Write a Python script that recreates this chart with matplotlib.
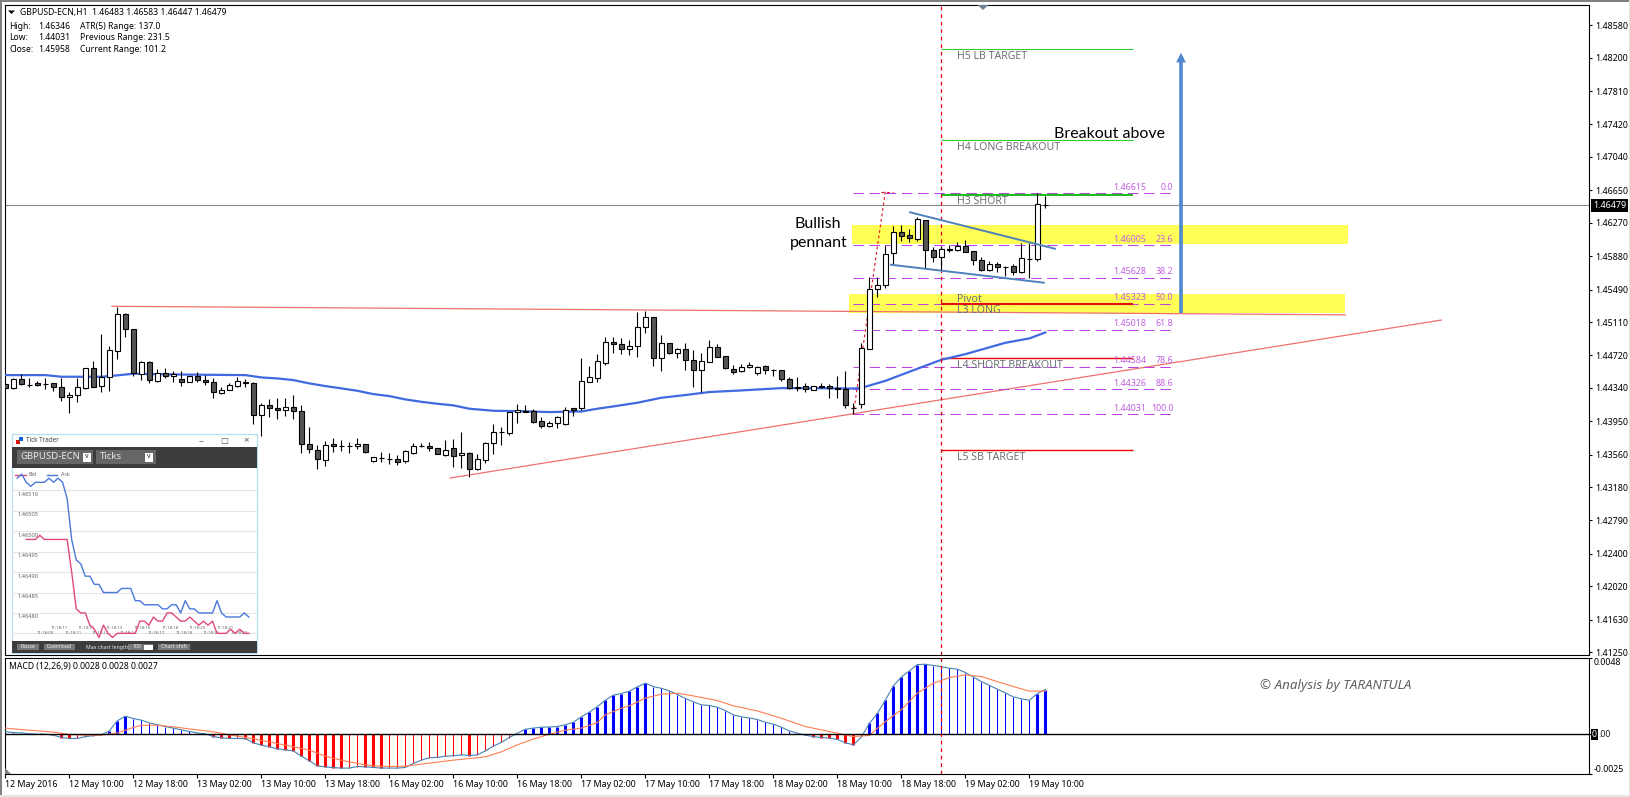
import matplotlib
matplotlib.use("Agg")
import matplotlib.pyplot as plt
from matplotlib.patches import Rectangle, Polygon
import numpy as np

plt.rcParams['font.family'] = ['Noto Sans', 'DejaVu Sans']
W, H = 1631, 797

# ---- hourly OHLC, in points (1e-5)
high_pts = [144392,144451,144501,144451,144415,144454,144400,144458,144295,144458,
144567,144653,144969,144829,145289,145211,145024,144653,144653,144556,
144567,144536,144536,144478,144521,144490,144451,144345,144392,144462,
144447,144411,144158,144205,144217,144217,144256,144135,143877,143667,
143713,143749,143729,143710,143749,143686,143530,143589,143573,143554,
143612,143690,143690,143702,143639,143729,143737,143819,143585,143565,
143702,143916,143881,144061,144150,144135,144088,144002,143951,144010,
144115,144099,144684,144595,144735,144934,144938,144926,144895,145227,
145238,145164,144954,144860,144809,144860,144782,144743,144895,144848,
144708,144607,144618,144642,144591,144603,144556,144548,144462,144462,
144392,144365,144392,144388,144474,144535,144165,144859,145631,145639,
146010,146232,146243,146193,146341,146302,145990,145998,146006,146049,
146068,145943,145865,145826,145811,145760,145783,146033,146037,146615,146583]
open_pts = [144384,144334,144439,144376,144392,144388,144392,144345,144228,144252,
144334,144567,144357,144466,144766,145199,145024,144497,144638,144423,
144517,144482,144439,144408,144474,144427,144404,144283,144318,144365,
144408,144392,144018,144142,144100,144076,144111,144064,143678,143608,
143499,143678,143659,143663,143655,143678,143479,143522,143507,143503,
143479,143581,143663,143663,143632,143557,143632,143550,143573,143394,
143499,143690,143823,143815,144053,144072,144064,143947,143897,143924,
143912,144099,144099,144411,144458,144634,144872,144848,144798,144825,
145047,145164,144684,144860,144743,144790,144661,144544,144646,144813,
144708,144556,144540,144579,144517,144591,144548,144544,144439,144353,
144357,144318,144365,144365,144337,144325,144110,144157,144797,145491,
145538,145912,146158,146123,146080,146302,145947,145873,145959,145951,
145994,145935,145830,145721,145783,145756,145760,145690,145850,145842,146483]
close_pts = [144337,144439,144388,144370,144373,144386,144345,144228,144252,144345,
144567,144353,144462,144778,145199,145024,144509,144638,144427,144517,
144482,144505,144404,144474,144435,144404,144287,144318,144369,144415,
144392,144018,144142,144100,144076,144111,144064,143678,143620,143503,
143667,143655,143655,143659,143678,143585,143526,143518,143503,143476,
143600,143655,143659,143639,143569,143616,143546,143573,143390,143503,
143690,143827,143819,144053,144076,144060,143943,143897,143924,143994,
144084,144084,144423,144462,144649,144872,144848,144798,144825,145055,
145164,144684,144860,144743,144790,144661,144544,144649,144813,144704,
144567,144529,144579,144610,144587,144544,144544,144439,144341,144341,
144322,144357,144349,144334,144322,144138,144106,144801,145491,145538,
145900,146158,146119,146087,146310,145947,145873,145959,145947,146002,
145932,145830,145721,145783,145748,145752,145690,145854,145846,146485,146479]
low_pts = [144330,144330,144369,144345,144361,144322,144306,144189,144049,144177,
144322,144345,144295,144306,144681,144930,144482,144431,144392,144411,
144458,144411,144361,144404,144411,144369,144224,144267,144310,144345,
144345,143920,143780,144002,143979,144014,143975,143581,143581,143394,
143429,143589,143604,143573,143620,143581,143475,143468,143444,143440,
143456,143565,143651,143604,143561,143546,143417,143401,143300,143378,
143464,143565,143671,143791,143928,144053,143932,143873,143885,143873,
143908,144014,144084,144404,144411,144610,144751,144739,144727,144700,
144985,144595,144540,144735,144688,144548,144353,144295,144638,144696,
144556,144505,144521,144575,144493,144505,144478,144419,144330,144306,
144295,144310,144334,144224,144220,144110,144031,144106,144789,145401,
145506,145783,146060,146049,146060,145744,145815,145717,145932,145939,
145924,145779,145705,145701,145694,145651,145655,145678,145620,145826,146447]

# ---- moving average, sampled by bar
ma_bar = [0,5,7,12,14,16,21,25,30,32,34,36,38,40,42,44,46,48,50,52,54,56,58,61,64,68,72,74,76,79,82,85,88,92,97,104,106,107,110,114,117,120,125,128,130]
ma_pts = [144489,144489,144470,144470,144486,144505,144497,144493,144489,144462,144450,144431,144392,144361,144334,144306,144267,144244,144205,144177,144154,144135,144096,144072,144068,144057,144064,144096,144123,144166,144224,144256,144291,144310,144337,144334,144332,144340,144422,144563,144668,144734,144867,144918,144988]

# ---- MACD, in 1e-5
macd_pts = [15,10,8,2,0,0,-6,-21,-27,-27,
-15,-10,-4,21,84,113,98,88,71,59,
48,38,27,17,8,2,-15,-23,-27,-27,
-28,-54,-69,-79,-92,-98,-105,-138,-167,-199,
-205,-210,-213,-213,-203,-205,-209,-213,-213,-213,
-209,-184,-163,-148,-146,-138,-136,-130,-134,-130,
-105,-75,-52,-21,6,31,38,44,45,48,
59,75,109,138,173,213,245,255,270,297,
320,299,288,272,249,224,203,184,180,169,
148,121,109,102,92,75,63,44,21,6,
-6,-15,-21,-25,-33,-54,-67,-19,67,130,
213,303,359,397,437,439,431,424,414,408,
387,359,330,307,282,259,234,222,213,255,280]
sig_bar = [0,2,4,6,8,10,12,14,15,16,17,19,21,23,26,28,31,34,36,38,40,42,44,46,48,50,52,54,56,58,60,62,64,66,68,70,72,74,75,77,78,80,82,84,86,89,91,94,97,100,104,106,108,110,112,114,116,118,120,122,124,126,128,130]
sig_pts = [38,29,21,13,-2,-6,-6,8,25,42,56,56,46,33,15,-4,-29,-59,-79,-100,-138,-163,-184,-199,-203,-201,-188,-176,-163,-153,-142,-111,-67,-31,0,25,38,73,121,163,178,226,251,257,240,211,178,146,100,48,6,-15,-8,79,153,257,320,355,372,362,330,299,270,270]

date_labels = ['12 May 2016','12 May 10:00','12 May 18:00','13 May 02:00','13 May 10:00','13 May 18:00',
 '16 May 02:00','16 May 10:00','16 May 18:00','17 May 02:00','17 May 10:00','17 May 18:00',
 '18 May 02:00','18 May 10:00','18 May 18:00','19 May 02:00','19 May 10:00']
price_ticks = [1.48580,1.48200,1.47810,1.47420,1.47040,1.46650,1.46270,1.45880,1.45490,1.45110,
 1.44720,1.44340,1.43950,1.43560,1.43180,1.42790,1.42400,1.42020,1.41630,1.41250]
macd_ticks = [0.0048,-0.0025]

# ---- fibonacci and target levels
fib_price = [1.46615,1.46005,1.45628,1.45323,1.45018,1.44584,1.44326,1.44031]
fib_ratio = ['0.0','23.6','38.2','50.0','61.8','78.6','88.6','100.0']
level_names = ['H5 LB TARGET','H4 LONG BREAKOUT','H3 SHORT','Pivot','L4 SHORT BREAKOUT','L5 SB TARGET']
level_price = [1.48299,1.47238,1.46599,1.45321,1.44689,1.43613]
level_color = ['#33cc33','#33cc33','#22bb22','#e01010','#f00000','#f00000']
level_width = [0.8,0.8,1.5,1.5,1.0,1.0]

res_bar, res_price = [13.33,167.5],[1.45294,1.45194]
sup_bar, sup_price = [55.6,179.5],[1.43286,1.45133]
pen_up_bar, pen_up_price = [113.1,131.2],[1.46393,1.45967]
pen_lo_bar, pen_lo_price = [110.7,129.8],[1.45780,1.45570]
fibline_bar, fibline_price = [106,110],[1.44031,1.46634]
zones = [(105.8,167.8,1.46022,1.46244),(105.5,167.5,1.45219,1.45437)]

# ---- Tick Trader inset
ask_pts = [146513,146514,146512,146511,146512,146512,146512,146513,146512,146513,146512,146508,146498,146493,146492,146489,146489,146487,146487,146485,146485,146485,146485,146486,146486,146486,146483,146483,146482,146482,146482,146482,146481,146481,146482,146482,146480,146483,146481,146481,146480,146480,146480,146480,146483,146480,146479,146479,146479,146479,146480,146479]
bid_pts = [146498,146498,146498,146499,146498,146498,146498,146498,146498,146498,146490,146481,146480,146480,146477,146476,146474,146477,146475,146474,146475,146475,146475,146475,146475,146478,146478,146477,146479,146478,146478,146480,146480,146479,146478,146478,146479,146478,146477,146478,146477,146478,146475,146475,146475,146476,146475,146476,146475,146475]
tick_grid = [1.46510,1.46505,1.46500,1.46495,1.46490,1.46485,1.46480,1.46475]
time_top = ['11:18:11','11:18:11','11:18:13','11:18:16','11:18:18','11:18:20','11:18:21']
time_bot = ['11:18:09','11:18:11','11:18:12','11:18:14','11:18:17','11:18:18','11:18:21','11:18:23']

op, hi, lo, cl = [np.array(a)/1e5 for a in (open_pts, high_pts, low_pts, close_pts)]
bars = np.arange(len(op))
macd = np.array(macd_pts)/1e5
sig = np.array(sig_pts)/1e5

fig = plt.figure(figsize=(W/100, H/100), dpi=100, facecolor='white')
def rect(l, t, r, b):
    return [l/W, 1-b/H, (r-l)/W, (b-t)/H]

LEFT, RIGHT = 4.5, 1589.3
X0, DX = 5.33, 8.0
xlim = ((LEFT-X0)/DX, (RIGHT-X0)/DX)
ax = fig.add_axes(rect(LEFT, 4.5, RIGHT, 655))
ax.set_xlim(*xlim)
ax.set_ylim(1.41216, 1.48823)
mc = fig.add_axes(rect(LEFT, 657.7, RIGHT, 774))
mc.set_xlim(*xlim)
mc.set_ylim(-0.0025, 0.0048)

# zones
for b0, b1, p0, p1 in zones:
    ax.add_patch(Rectangle((b0, p0), b1-b0, p1-p0, fc='#ffff55', ec='none', zorder=1))

# current price
ax.axhline(cl[-1], color='#8a8a8a', lw=0.8, zorder=1.5)

# trend lines
ax.plot(res_bar, res_price, color='#f07070', lw=0.9, zorder=2)
ax.plot(sup_bar, sup_price, color='#f07070', lw=0.9, zorder=2)

# fibonacci
for p, r in zip(fib_price, fib_ratio):
    ax.plot([106, 146], [p, p], color='#bb44dd', lw=0.75, dashes=(10, 5.5), zorder=2)
    ax.annotate(f'{p:.5f}', (142.6, p), xytext=(0, 6), textcoords='offset pixels', ha='right', va='center',
                fontsize=6.4, color='#c060e0', zorder=6)
    ax.annotate(r, (146, p), xytext=(0, 6), textcoords='offset pixels', ha='right', va='center',
                fontsize=6.4, color='#c060e0', zorder=6)
ax.plot(fibline_bar, fibline_price, color='#e01020', lw=0.8, dashes=(2.5, 2.5), zorder=3)
ax.plot([109.5, 111], [fibline_price[1]]*2, color='#e01020', lw=0.8, dashes=(2.5, 2.5), zorder=3)

# vertical event line
for a in (ax, mc):
    a.axvline(117, color='#e00010', lw=0.9, dashes=(3, 3), zorder=4)

# target levels
for n, p, c, w in zip(level_names, level_price, level_color, level_width):
    ax.plot([117, 141], [p, p], color=c, lw=w, solid_capstyle='butt', zorder=3)
    dy = {'Pivot': 4, 'H3 SHORT': -7}.get(n, -7)
    ax.annotate(n, (117, p), xytext=(16, dy), textcoords='offset pixels', va='center', ha='left',
                fontsize=7.6, color='#6c7078', zorder=6)
ax.annotate('L3 LONG', (117, level_price[3]), xytext=(16, -7), textcoords='offset pixels', va='center',
            fontsize=7.6, color='#6c7078', zorder=6)

# moving average
ax.plot(ma_bar, np.array(ma_pts)/1e5, color='#4169e1', lw=1.6, zorder=3, solid_joinstyle='round')

# candles
ax.vlines(bars, lo, hi, color='black', lw=0.8, zorder=4)
up = cl >= op
ax.bar(bars, cl-op, bottom=op, width=0.56, color=np.where(up, 'white', '#555555'),
       edgecolor='black', linewidth=0.8, zorder=5)

# pennant
ax.plot(pen_up_bar, pen_up_price, color='#4f81bd', lw=1.4, zorder=6)
ax.plot(pen_lo_bar, pen_lo_price, color='#4f81bd', lw=1.4, zorder=6)

# breakout arrow
ax.annotate('', xy=(146.96, 1.48259), xytext=(146.96, 1.45215),
            arrowprops=dict(width=2.6, headwidth=7, headlength=7, color='#4f88d0', shrink=0, lw=0), zorder=6)

ax.yaxis.tick_right()
ax.set_yticks(price_ticks)
ax.set_yticklabels([f'{t:.5f}' for t in price_ticks], fontsize=6.4)
ax.set_xticks([])
ax.tick_params(axis='y', length=2, width=0.8, pad=2)

# MACD
rising = np.array([abs(macd[i]) > abs(macd[i-1]) if i else False for i in bars])
cols = np.where(macd >= 0, '#0000ff', '#ff0000')
mc.vlines(bars, 0, macd, colors=cols, linewidths=np.where(rising, 2.2, 0.75), zorder=2)
mc.plot(bars, macd, color='#4682b4', lw=0.8, zorder=3)
mc.plot(sig_bar, sig, color='#ff7f50', lw=0.8, zorder=3)
mc.axhline(0, color='black', lw=1.0, zorder=3)
mc.yaxis.tick_right()
mc.set_yticks(macd_ticks+[0])
lbls = mc.set_yticklabels(['0.0048', '-0.0025', ''], fontsize=6.4)
lbls[0].set_va('top')
lbls[1].set_va('bottom')
mc.tick_params(axis='y', length=2, width=0.8, pad=1)
mc.set_xticks(np.arange(len(date_labels))*8)
mc.set_xticklabels(date_labels, fontsize=6.4, ha='left')
mc.tick_params(axis='x', length=3, width=0.8, pad=1.5)

# pixel overlay for window furniture and captions
ov = fig.add_axes([0, 0, 1, 1], zorder=5)
ov.set_xlim(0, W); ov.set_ylim(H, 0); ov.axis('off'); ov.patch.set_alpha(0)
def T(x, y, s, **k):
    k.setdefault('va', 'center'); k.setdefault('fontsize', 6.2); k.setdefault('color', 'black')
    return ov.text(x, y, s, **k)

ov.add_patch(Rectangle((0, 0), W, 2, fc='#808080', ec='none'))
ov.add_patch(Rectangle((0, 0), 2, H, fc='#808080', ec='none'))
ov.add_patch(Rectangle((W-2, 0), 2, H, fc='#e6e6e6', ec='none'))
ov.add_patch(Rectangle((0, H-2), W, 2, fc='#e6e6e6', ec='none'))

# header
ov.add_patch(Polygon([(8, 10.5), (15, 10.5), (11.5, 14)], fc='black', ec='none'))
T(20, 12.5, 'GBPUSD-ECN,H1  1.46483 1.46583 1.46447 1.46479')
T(9.3, 26.5, 'High:'); T(37.7, 26.5, '1.46346'); T(80, 26.5, 'ATR(5) Range: 137.0')
T(9.3, 37.8, 'Low:');  T(38.2, 37.8, '1.44031'); T(80, 37.8, 'Previous Range: 231.5')
T(9.3, 49.3, 'Close:'); T(37.7, 49.3, '1.45958'); T(80, 49.3, 'Current Range: 101.2')
T(9.3, 666.7, 'MACD (12,26,9) 0.0028 0.0028 0.0027')
ov.add_patch(Polygon([(977.5, 5), (988.5, 5), (983, 10)], fc='#708090', ec='none'))
ov.add_patch(Polygon([(5, 768), (5, 774), (11, 774)], fc='#808080', ec='none'))

# axis badges
T(1609.5, 205.5, '1.46479', color='white', ha='center', fontsize=6.4,
  bbox=dict(fc='black', ec='none', pad=1.2))
T(1594.5, 734.5, '0', color='white', ha='center', fontsize=6.4, bbox=dict(fc='black', ec='none', pad=1))
T(1598, 734.5, '.00', color='#202020', fontsize=6.4)

# captions
T(817.5, 224, 'Bullish', ha='center', fontsize=11.5, family='Lato')
T(819, 243.3, 'pennant', ha='center', fontsize=11.5, family='Lato')
T(1054, 133.5, 'Breakout above', fontsize=11.5, family='Lato')
T(1260, 686, '\u00a9 Analysis by TARANTULA', fontsize=9.6, style='italic', color='#606060')

# Tick Trader window
wx0, wx1, wy0, wy1 = 12, 257.5, 434, 652.5
ov.add_patch(Rectangle((wx0, wy0), wx1-wx0, wy1-wy0, fc='white', ec='#b5e0f5', lw=0.9))
ov.add_patch(Rectangle((wx0, 447), wx1-wx0, 20.5, fc='#3c3c3c', ec='none'))
ov.add_patch(Rectangle((wx0, 640.7), wx1-wx0, 12, fc='#3c3c3c', ec='none'))
ov.add_patch(Rectangle((16, 439.5), 4, 4, fc='#e01010', ec='none'))
ov.add_patch(Rectangle((19.5, 437), 3.5, 3.5, fc='#1060d0', ec='none'))
T(26, 440.7, 'Tick Trader', fontsize=4.5, color='#444444')
T(201, 440.7, '\u2212', fontsize=6, color='#555555', ha='center')
T(224, 440.7, '\u25a1', fontsize=6, color='#555555', ha='center')
T(246.3, 440.7, '\u00d7', fontsize=7, color='#555555', ha='center')
ov.add_patch(Rectangle((16.7, 450), 76.6, 14, fc='#666666', ec='none'))
ov.add_patch(Rectangle((96, 450), 60, 14, fc='#666666', ec='none'))
T(20, 456.5, 'GBPUSD-ECN', fontsize=6.9, color='#e8e8e8')
T(100, 456.5, 'Ticks', fontsize=6.9, color='#e8e8e8')
for bx in (82.7, 145):
    ov.add_patch(Rectangle((bx, 452.5), 8.5, 9, fc='white', ec='none'))
    T(bx+4.2, 456.5, 'v', ha='center', fontsize=5, color='#222222', fontweight='bold')
for x0, x1, s in [(16.7, 39.3, 'Pause'), (44, 75, 'Download'), (158, 190, 'Chart shift')]:
    ov.add_patch(Rectangle((x0, 644.3), x1-x0, 5.7, fc='#777777', ec='none'))
    T((x0+x1)/2, 647, s, ha='center', fontsize=3.8, color='#eeeeee')
T(86, 647, 'Max chart length:', fontsize=3.8, color='#eeeeee')
ov.add_patch(Rectangle((128, 644.3), 25, 5.7, fc='#777777', ec='none'))
ov.add_patch(Rectangle((144, 644.8), 9, 4.7, fc='white', ec='none'))
T(133, 647, '100', fontsize=3.8, color='#eeeeee')

ins = fig.add_axes(rect(12.5, 468, 257, 640.7), zorder=6)
ins.set_xlim(-1.03, 52.8)
ins.set_ylim(1.464732, 1.465155)
ins.axis('off')
for g in tick_grid:
    ins.axhline(g, color='#e4e4e4', lw=0.8, zorder=1)
for g in tick_grid[:-1]:
    ins.annotate(f'{g:.5f}', (0, g), xytext=(0, -4), textcoords='offset pixels', va='center',
                 fontsize=4.1, color='#666666', zorder=2)
ins.plot(np.arange(len(ask_pts)), np.array(ask_pts)/1e5, color='#4a78d8', lw=1, zorder=3)
ins.plot(np.arange(2, 2+len(bid_pts)), np.array(bid_pts)/1e5, color='#e04878', lw=1, zorder=3)
for i, s in enumerate(time_top):
    ins.text(9.2+6.1*i, 1.464762, s, fontsize=3.1, color='#666666', ha='center', va='center', zorder=2)
for i, s in enumerate(time_bot):
    ins.text(6.2+6.1*i, 1.46475, s, fontsize=3.1, color='#666666', ha='center', va='center', zorder=2)
ov.plot([15, 26], [474.7, 474.7], color='#e04878', lw=1)
ov.plot([46.7, 57.3], [474.7, 474.7], color='#4a78d8', lw=1)
T(29, 474.7, 'Bid', fontsize=3.8, color='#666666')
T(61, 474.7, 'Ask', fontsize=3.8, color='#666666')

fig.savefig('out.png', dpi=100)
